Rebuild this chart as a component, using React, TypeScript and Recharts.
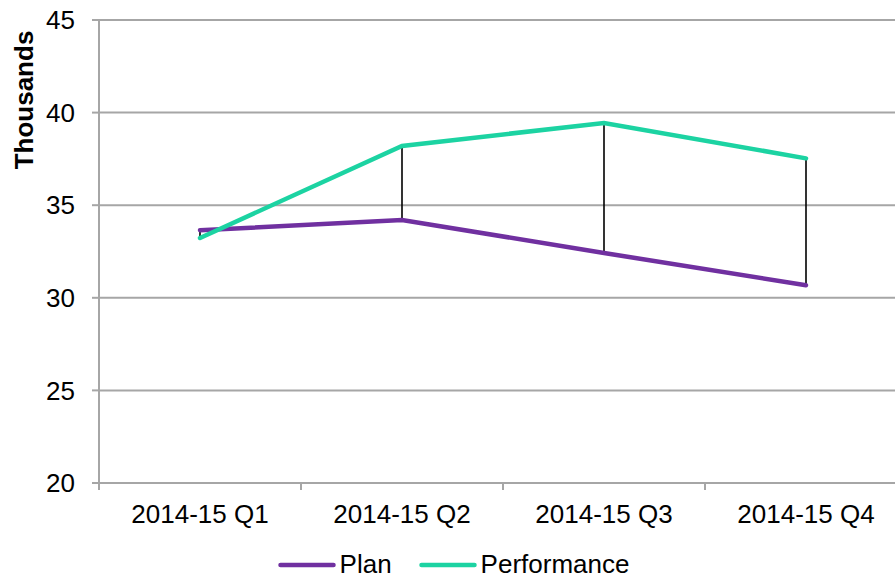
import {
  Bar,
  CartesianGrid,
  ComposedChart,
  Label,
  Legend,
  Line,
  XAxis,
  YAxis,
} from "recharts"

const quarters = ["2014-15 Q1", "2014-15 Q2", "2014-15 Q3", "2014-15 Q4"]
const plan = [33.65, 34.2, 32.42, 30.68]
const performance = [33.23, 38.2, 39.44, 37.53]
const yTicks = [20, 25, 30, 35, 40, 45]
const legendOrder = ["Plan", "Performance"]

const PURPLE = "#7030A0"
const GREEN = "#1CD3A2"
const GRID = "#A6A6A6"
const FONT = "'Liberation Sans', Arial, sans-serif"
const FS = 26

const data = quarters.map((q, i) => ({
  quarter: q,
  plan: plan[i],
  performance: performance[i],
}))

const TICK_SIZE = 7
const TICK_MARGIN = 15

function QuarterTick(props: any) {
  const { x, y, payload } = props
  const off = payload?.offset ?? 0
  const top = y - TICK_MARGIN - TICK_SIZE
  return (
    <g>
      <line x1={x - off} y1={top} x2={x - off} y2={top + TICK_SIZE} stroke={GRID} strokeWidth={2} />
      <text x={x} y={y} dy="0.71em" textAnchor="middle" fontSize={FS} fill="#000" fontFamily={FONT}>
        {payload.value}
      </text>
    </g>
  )
}

function HiLowLine(props: any) {
  const { x, y, width, height } = props
  if (x == null || y == null) return null
  const cx = x + width / 2
  const y1 = Math.min(y, y + height)
  const y2 = Math.max(y, y + height)
  return <line x1={cx} y1={y1} x2={cx} y2={y2} stroke="#000" strokeWidth={1.6} />
}

function LegendContent(props: any) {
  const items = (props.payload ?? [])
    .filter((p: any) => p.type !== "none")
    .sort((a: any, b: any) => legendOrder.indexOf(a.value) - legendOrder.indexOf(b.value))
  return (
    <div
      style={{
        display: "flex",
        justifyContent: "center",
        alignItems: "center",
        gap: 27,
        fontFamily: FONT,
        fontSize: FS,
        color: "#000",
        height: 19,
        lineHeight: "20px",
      }}
    >
      {items.map((p: any) => (
        <div key={p.value} style={{ display: "flex", alignItems: "center" }}>
          <svg width={58} height={10} style={{ marginRight: 4, marginTop: 2 }}>
            <line x1={2.5} y1={5} x2={55.5} y2={5} stroke={p.color} strokeWidth={4.5} strokeLinecap="round" />
          </svg>
          <span>{p.value}</span>
        </div>
      ))}
    </div>
  )
}

export default function App() {
  return (
    <div
      style={{
        position: "absolute",
        left: 0,
        top: 0,
        width: 895,
        height: 578,
        overflow: "hidden",
        background: "#fff",
      }}
    >
      <ComposedChart
        width={920}
        height={578}
        data={data}
        margin={{ top: 20, right: 13, left: 0, bottom: 0 }}
      >
        <CartesianGrid vertical={false} stroke={GRID} strokeWidth={2} />
        <XAxis
          dataKey="quarter"
          height={71}
          tickLine={false}
          tickSize={TICK_SIZE}
          tickMargin={TICK_MARGIN}
          axisLine={{ stroke: GRID, strokeWidth: 2 }}
          tick={<QuarterTick />}
          interval={0}
        />
        <YAxis
          width={99}
          domain={[20, 45]}
          ticks={yTicks}
          tickSize={TICK_SIZE}
          tickMargin={17}
          axisLine={{ stroke: GRID, strokeWidth: 2 }}
          tickLine={{ stroke: GRID, strokeWidth: 2 }}
          tick={{ fontSize: FS, fill: "#000", fontFamily: FONT }}
        >
          <Label
            content={(p: any) => {
              const vb = p.viewBox ?? { x: 0, y: 20 }
              const cx = vb.x + 24
              const cy = vb.y + 80
              return (
                <text
                  x={cx}
                  y={cy}
                  transform={`rotate(-90 ${cx} ${cy})`}
                  textAnchor="middle"
                  dominantBaseline="central"
                  fontSize={FS}
                  fontWeight="bold"
                  fill="#000"
                  fontFamily={FONT}
                >
                  Thousands
                </text>
              )
            }}
          />
        </YAxis>
        <Legend verticalAlign="bottom" height={24} content={<LegendContent />} />
        <Line
          type="linear"
          dataKey="plan"
          name="Plan"
          stroke={PURPLE}
          strokeWidth={4.5}
          strokeLinecap="round"
          dot={false}
          activeDot={false}
          isAnimationActive={false}
        />
        <Line
          type="linear"
          dataKey="performance"
          name="Performance"
          stroke={GREEN}
          strokeWidth={4.5}
          strokeLinecap="round"
          dot={false}
          activeDot={false}
          isAnimationActive={false}
        />
        <Bar
          dataKey={(d: any) => [Math.min(d.plan, d.performance), Math.max(d.plan, d.performance)]}
          legendType="none"
          barSize={4}
          shape={<HiLowLine />}
          isAnimationActive={false}
        />
      </ComposedChart>
    </div>
  )
}
